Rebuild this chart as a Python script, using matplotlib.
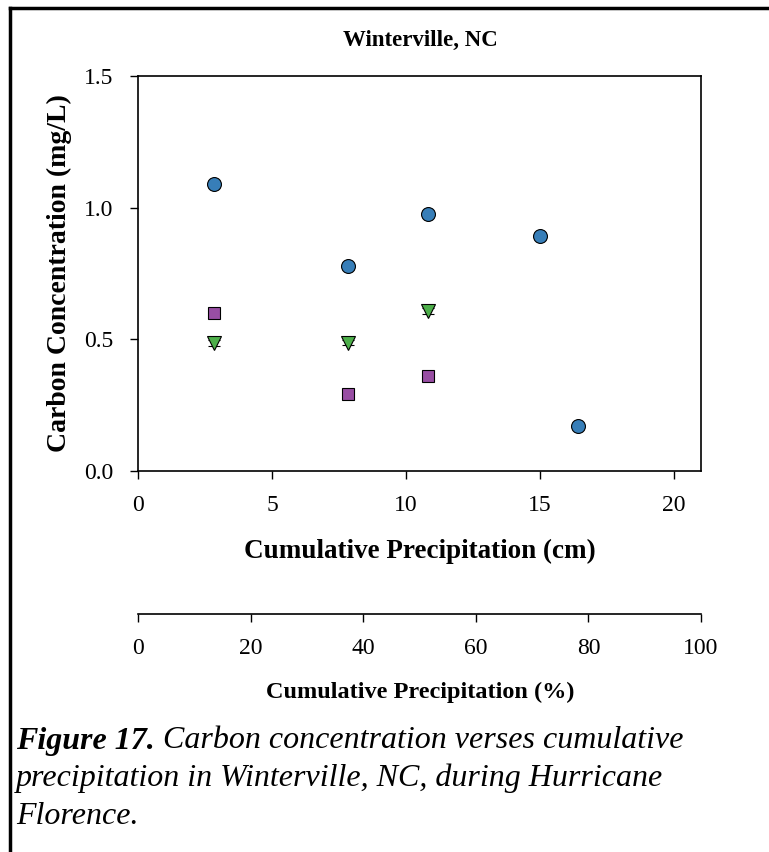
"""
Winterville, NC - carbon concentration vs cumulative precipitation.
Scatter with three carbon series and a secondary % precipitation axis.
"""

import matplotlib
matplotlib.use("Agg")  # no display
import matplotlib.pyplot as plt
from matplotlib.lines import Line2D

# ---- data ----
precip_cm = [2.85, 7.85, 10.8, 15.0, 16.4]
total_precip_cm = 21.0

series_a = [1.09, 0.778, 0.975, 0.893, 0.171]   # blue circles
series_b_x = [2.85, 7.85, 10.8]
series_b = [0.60, 0.292, 0.361]                 # purple squares
series_c_x = [2.85, 7.85, 10.8]
series_c = [0.487, 0.487, 0.608]                # green triangles
err_a = [0.012, 0.012, 0.008, 0.012, 0.008]
err_b = [0.012, 0.012, 0.012]
err_c = [0.012, 0.010, 0.012]

x_ticks_cm = [0, 5, 10, 15, 20]
x_ticks_pct = [0, 20, 40, 60, 80, 100]
y_ticks = [0.0, 0.5, 1.0, 1.5]

W, H = 769, 852
plt.rcParams["font.family"] = ["Liberation Serif", "DejaVu Serif"]


def fx(px):
    return px / W


def fy(py):
    return 1 - py / H


fig = plt.figure(figsize=(W / 100, H / 100), dpi=100)
ax = fig.add_axes([fx(138), fy(471), 563 / W, 395 / H])

marker_kw = dict(mec="black", mew=0.8, ecolor="black", elinewidth=0.8, capsize=4, zorder=3)
ax.errorbar(precip_cm, series_a, yerr=err_a, fmt="o", ms=10, mfc="#377eb8", **marker_kw)
ax.errorbar(series_b_x, series_b, yerr=err_b, fmt="s", ms=9, mfc="#984ea3", **marker_kw)
ax.errorbar(series_c_x, series_c, yerr=err_c, fmt="v", ms=10, mfc="#4daf4a", **marker_kw)

ax.set_xlim(0, total_precip_cm)
ax.set_ylim(0, 1.5)
ax.set_xticks(x_ticks_cm)
ax.set_yticks(y_ticks)
ax.set_yticklabels([f"{v:.1f}" for v in y_ticks])
ax.tick_params(direction="out", length=6, width=1, labelsize=17, pad=12)
ax.tick_params(axis="x", pad=11)
for s in ax.spines.values():
    s.set_linewidth(1.2)

# secondary axis: percent of total precipitation
sec = ax.secondary_xaxis(-0.362, functions=(lambda x: x / total_precip_cm * 100,
                                            lambda p: p / 100 * total_precip_cm))
sec.set_xticks(x_ticks_pct)
sec.tick_params(direction="out", length=6, width=1, labelsize=17, pad=11)
sec.spines["bottom"].set_linewidth(1.2)

# titles / labels placed by pixel
fig.text(fx(420), fy(40), "Winterville, NC", fontsize=16.5, fontweight="bold",
         ha="center", va="center")
fig.text(fx(59), fy(273), "Carbon Concentration (mg/L)", fontsize=20, fontweight="bold",
         rotation=90, ha="center", va="center")
fig.text(fx(420), fy(551), "Cumulative Precipitation (cm)", fontsize=19.5, fontweight="bold",
         ha="center", va="center")
fig.text(fx(420), fy(692), "Cumulative Precipitation (%)", fontsize=17.5, fontweight="bold",
         ha="center", va="center")

# outer frame (top + left edge of the page box)
fig.add_artist(Line2D([fx(10), 1], [fy(8), fy(8)], color="black", lw=2.5))
fig.add_artist(Line2D([fx(10), fx(10)], [0, fy(8)], color="black", lw=2.5))

# caption
cap_lines = [
    ("Figure 17.", " Carbon concentration verses cumulative"),
    ("", "precipitation in Winterville, NC, during Hurricane"),
    ("", "Florence."),
]
fig.canvas.draw()
for i, (bold, rest) in enumerate(cap_lines):
    y = fy(741 + 37.5 * i)
    x_next = fx(16)
    if bold:
        t = fig.text(fx(16), y, bold, fontsize=23, fontweight="bold", style="italic", va="center")
        x_next = t.get_window_extent(renderer=fig.canvas.get_renderer()).x1 / W
    fig.text(x_next, y, rest, fontsize=23, style="italic", va="center")

fig.savefig("out.png", dpi=100)
